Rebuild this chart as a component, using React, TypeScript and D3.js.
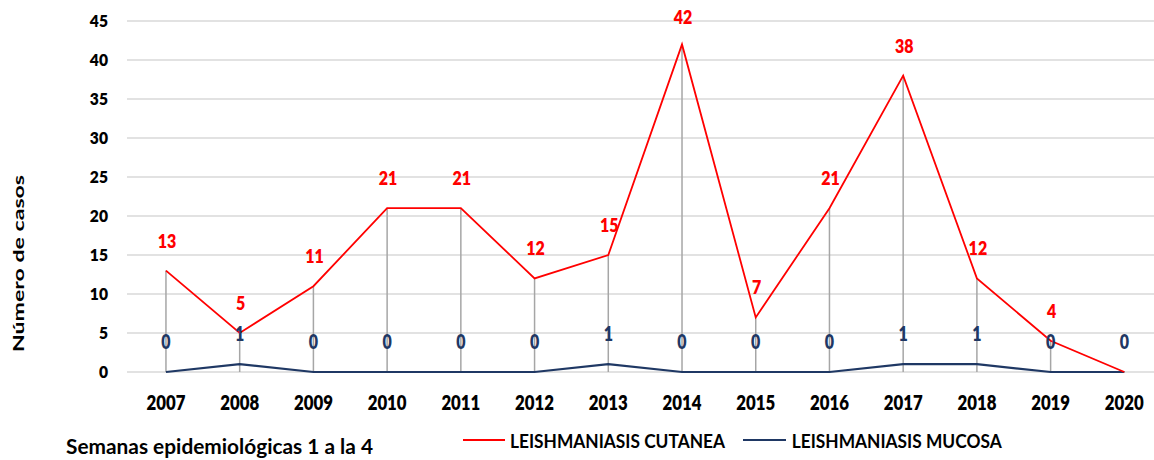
import React from "react";
import * as d3 from "d3";

const years = ["2007","2008","2009","2010","2011","2012","2013","2014","2015","2016","2017","2018","2019","2020"];
const cutanea = [13, 5, 11, 21, 21, 12, 15, 42, 7, 21, 38, 12, 4, 0];
const mucosa = [0, 1, 0, 0, 0, 0, 1, 0, 0, 0, 1, 1, 0, 0];
const yTicks = [0, 5, 10, 15, 20, 25, 30, 35, 40, 45];
const seriesNames = ["LEISHMANIASIS CUTANEA", "LEISHMANIASIS MUCOSA"];
const yTitle = "Número de casos";
const footNote = "Semanas epidemiológicas 1 a la 4";

const W = 1154, H = 460;
const RED = "#ff0000";
const NAVY = "#1f3864";
const FONT = "Lato, 'Open Sans', sans-serif";

const x = d3.scalePoint<string>().domain(years).range([129.1, 1161.2]).padding(0.5);
const y = d3.scaleLinear().domain([0, 45]).range([372, 21]);

function CText(props: {
  x: number; cy: number; fs: number; sx?: number; fill?: string; anchor?: string;
  weight?: string | number; children: React.ReactNode; textLength?: number;
}) {
  const { x: tx, cy, fs, sx = 1, fill = "#000", anchor = "middle", weight = 800, children, textLength } = props;
  return (
    <text
      transform={`translate(${tx},${cy + 0.358 * fs}) scale(${sx},1)`}
      textAnchor={anchor}
      fontFamily={FONT}
      fontSize={fs}
      fontWeight={weight}
      fill={fill}
      textLength={textLength}
      lengthAdjust={textLength ? "spacingAndGlyphs" : undefined}
    >
      {children}
    </text>
  );
}

export default function App() {
  const lineGen = d3.line<number>().x((_, i) => x(years[i]) as number).y((d) => y(d));
  return (
    <svg width={W} height={H} style={{ position: "absolute", left: 0, top: 0, background: "#fff" }}>
      <rect width={W} height={H} fill="#fff" />
      {/* gridlines */}
      {yTicks.map((t) => (
        <line key={t} x1={127} x2={W} y1={y(t)} y2={y(t)} stroke="#d9d9d9" strokeWidth={1.6} />
      ))}
      {/* y tick labels */}
      {yTicks.map((t) => (
        <CText key={"yl" + t} x={108} cy={y(t)} fs={17} sx={0.92} anchor="end">{String(t)}</CText>
      ))}
      {/* drop lines */}
      {years.map((yr, i) => {
        const top = Math.max(cutanea[i], mucosa[i]);
        if (top <= 0) return null;
        return (
          <line key={"dl" + yr} x1={x(yr)} x2={x(yr)} y1={y(0)} y2={y(top)} stroke="#a6a6a6" strokeWidth={1.5} />
        );
      })}
      {/* series lines */}
      <path d={lineGen(mucosa) || ""} fill="none" stroke={NAVY} strokeWidth={2.2} />
      <path d={lineGen(cutanea) || ""} fill="none" stroke={RED} strokeWidth={1.8} />
      {/* x labels */}
      {years.map((yr) => (
        <CText key={"xl" + yr} x={x(yr) as number} cy={403} fs={20} sx={0.84}>{yr}</CText>
      ))}
      {/* data labels */}
      {years.map((yr, i) => (
        <CText key={"mu" + yr} x={x(yr) as number} cy={y(mucosa[i]) - 30} fs={20} sx={0.8} fill={NAVY}>
          {String(mucosa[i])}
        </CText>
      ))}
      {years.map((yr, i) => (
        cutanea[i] > 0 ? (
          <CText key={"cu" + yr} x={(x(yr) as number) + 1} cy={Math.max(y(cutanea[i]) - 30, 17)} fs={19.5} sx={0.82} fill={RED}>
            {String(cutanea[i])}
          </CText>
        ) : null
      ))}
      {/* y axis title */}
      <text
        transform={`translate(24,263.5) rotate(-90)`}
        textAnchor="middle"
        fontFamily={FONT}
        fontSize={16}
        fontWeight="bold"
        fill="#000"
        textLength={177}
        lengthAdjust="spacingAndGlyphs"
      >
        {yTitle}
      </text>
      {/* footnote */}
      <text x={66} y={454} fontFamily={FONT} fontSize={20} fontWeight="bold" fill="#000" textLength={307} lengthAdjust="spacingAndGlyphs">
        {footNote}
      </text>
      {/* legend */}
      <line x1={463} x2={505} y1={440} y2={440} stroke={RED} strokeWidth={2} />
      <text x={510} y={441.7 + 0.358 * 18} fontFamily={FONT} fontSize={18} fontWeight="bold" fill="#000" textLength={215} lengthAdjust="spacingAndGlyphs">
        {seriesNames[0]}
      </text>
      <line x1={743} x2={786} y1={440} y2={440} stroke={NAVY} strokeWidth={2.2} />
      <text x={791.7} y={441.7 + 0.358 * 18} fontFamily={FONT} fontSize={18} fontWeight="bold" fill="#000" textLength={210} lengthAdjust="spacingAndGlyphs">
        {seriesNames[1]}
      </text>
    </svg>
  );
}
